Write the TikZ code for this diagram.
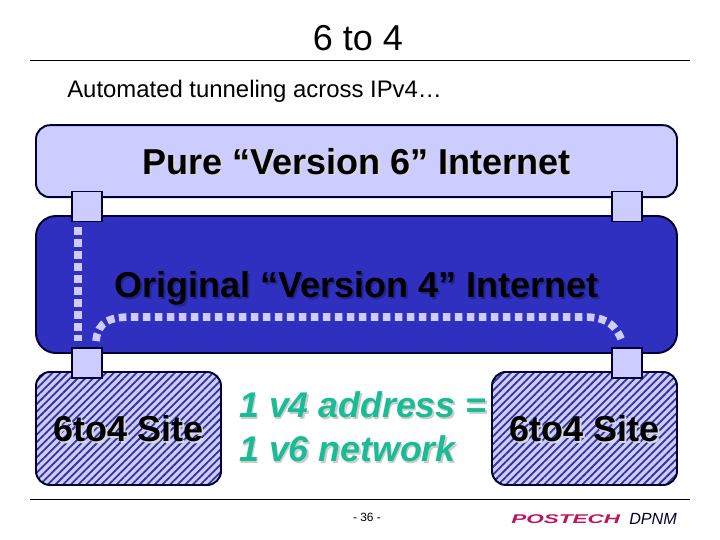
\documentclass[tikz,border=0pt]{standalone}
\usepackage{fontspec}
\setmainfont{Liberation Sans}
\usetikzlibrary{patterns.meta}

\definecolor{lightblue}{HTML}{CCCCFF}
\definecolor{midblue}{HTML}{3030C0}
\definecolor{darkline}{HTML}{000033}
\definecolor{stripeblue}{HTML}{333399}
\definecolor{tealgreen}{HTML}{1ABC96}
\definecolor{logored}{HTML}{C0145A}

\newcommand{\shadowed}[2]{\leavevmode\rlap{\kern0.04cm\raisebox{-0.04cm}{\textcolor{#1}{#2}}}#2}

\tikzset{
    bigtext/.style={font=\fontsize{25.6}{31.3}\selectfont\bfseries},
    cloudbox/.style={draw=darkline, line width=1.4pt, rounded corners=0.35cm, bigtext, inner sep=0pt, text depth=0pt},
    gatebox/.style={draw=darkline, line width=1.4pt, fill=lightblue, minimum width=0.75cm, minimum height=0.75cm, inner sep=0pt},
    sitebox/.style={cloudbox, minimum width=4.625cm, minimum height=2.825cm,
        preaction={fill=lightblue}, pattern={Lines[angle=45, distance=0.135cm, line width=0.045cm]}, pattern color=stripeblue},
    tunnel/.style={draw=lightblue, line width=0.19cm, dash pattern=on 0.19cm off 0.11cm}
}

\begin{document}
\begin{tikzpicture}
    \useasboundingbox (0,0) rectangle (18,-13.5);
%____________________________________________________________________________________________________
    \node[font=\fontsize{25.6}{31}\selectfont] (title) at (8.95,-0.95) {6 to 4};
    \draw[line width=0.6pt] (0.75,-1.5) -- (17.25,-1.5);
    \node[anchor=west, inner sep=0pt, font=\fontsize{17}{20}\selectfont] (subtitle) at (1.675,-2.29) {Automated tunneling across IPv4…};
%____________________________________________________________________________________________________
    \node[cloudbox, fill=lightblue, minimum width=16.025cm, minimum height=1.8cm] (pure) at (8.9125,-4.03) {\shadowed{gray!30}{Pure “Version 6” Internet}};
    \node[cloudbox, fill=midblue, rounded corners=0.5cm, minimum width=16.025cm, minimum height=3.425cm] (original) at (8.9125,-7.1125) {\shadowed{midblue!75!black}{Original “Version 4” Internet}};
    \node[sitebox] (siteleft) at (3.2125,-10.7125) {\shadowed{gray!30}{6to4 Site}};
    \node[sitebox] (siteright) at (14.6125,-10.7125) {\shadowed{gray!30}{6to4 Site}};
%____________________________________________________________________________________________________
    \node[gatebox] (gatea) at (2.175,-5.1625) {};
    \node[gatebox] (gateb) at (15.675,-5.1625) {};
    \node[gatebox] (gatec) at (2.175,-9.075) {};
    \node[gatebox] (gated) at (15.675,-9.075) {};
    
    \draw[tunnel] ([xshift=-0.225cm,yshift=-0.125cm]gatea.south) -- ([xshift=-0.225cm,yshift=0.15cm]gatec.north);
    \draw[tunnel] ([xshift=0.225cm,yshift=0.15cm]gatec.north) .. controls (2.45,-8.0) and (2.8,-7.925) .. (3.3,-7.925) -- (14.6,-7.925) .. controls (15.0,-7.925) and (15.35,-8.0) .. ([xshift=-0.125cm,yshift=0.15cm]gated.north);
%____________________________________________________________________________________________________
    \node[anchor=west, inner sep=0pt, align=left, text=tealgreen, font=\fontsize{25.4}{31.3}\selectfont\bfseries\itshape] (note) at (5.975,-10.7) {\shadowed{gray!40}{1 v4 address =}\\\shadowed{gray!40}{1 v6 network}};
%____________________________________________________________________________________________________
    \draw[line width=0.6pt] (0.75,-12.475) -- (17.25,-12.475);
    \node[font=\fontsize{8.5}{10}\selectfont] (page) at (9.175,-12.925) {- 36 -};
    \node[anchor=west, inner sep=0pt, text=logored, font=\fontsize{9}{11}\selectfont\bfseries\itshape] (postech) at (12.775,-12.98) {\scalebox{1.78}[1]{POSTECH}};
    \node[anchor=west, inner sep=0pt, text=darkline, font=\fontsize{11.5}{13}\selectfont\itshape] (dpnm) at (15.725,-12.98) {DPNM};
\end{tikzpicture}
\end{document}
